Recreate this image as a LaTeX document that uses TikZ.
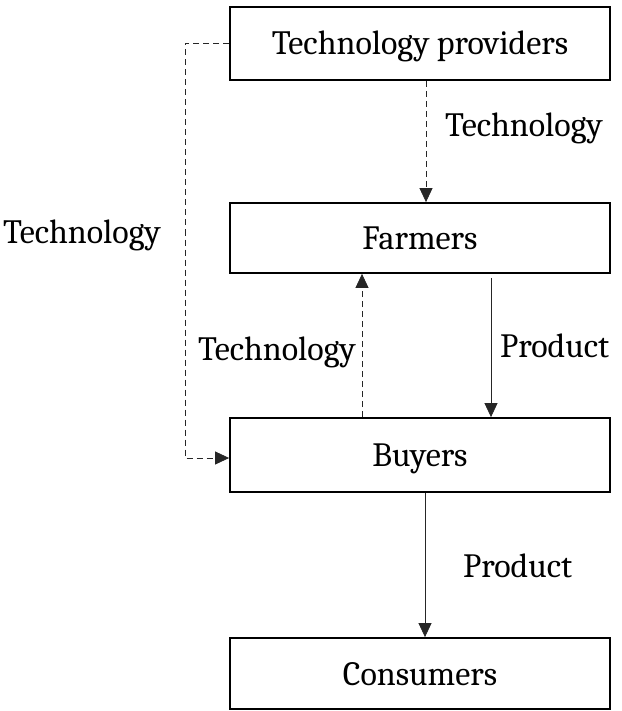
\documentclass[tikz,border=0pt]{standalone}
\usepackage{fontspec}
\setmainfont{Caladea}
\usetikzlibrary{arrows.meta}
\begin{document}
\begin{tikzpicture}[x=1pt,y=-1pt,
  box/.style={draw=black,line width=1.8pt,minimum width=380pt,inner sep=0pt,text height=30pt,text depth=7pt,font=\fontsize{34}{40}\selectfont},
  lbl/.style={inner sep=0pt,anchor=base west,font=\fontsize{34}{40}\selectfont},
  flow/.style={line width=0.8pt,draw=black!85,-{Triangle[length=14pt,width=13pt]}},
  dflow/.style={flow,dash pattern=on 6pt off 4pt}]
\useasboundingbox (0,0) rectangle (621,711);
\node[box,minimum height=73pt] (tp) at (420,43.5) {Technology providers};
\node[box,minimum height=70pt] (fa) at (420,238) {Farmers};
\node[box,minimum height=74pt] (bu) at (420,455) {Buyers};
\node[box,minimum height=71pt] (co) at (420,673.5) {Consumers};
\draw[dflow] ([xshift=6pt]tp.south) -- ([xshift=6pt]fa.north);
\draw[dflow] (tp.west) -- ++(-44,0) |- ([yshift=-3pt]bu.west);
\draw[dflow] ([xshift=-58pt]bu.north) -- ([xshift=-58pt]fa.south);
\draw[flow] ([xshift=71pt,yshift=-4pt]fa.south) -- ([xshift=71pt]bu.north);
\draw[flow] ([xshift=5pt]bu.south) -- ([xshift=5pt]co.north);
\node[lbl] (l1) at (445,137) {Technology};
\node[lbl] (l2) at (3,243) {Technology};
\node[lbl] (l3) at (198,360) {Technology};
\node[lbl] (l4) at (500,357) {Product};
\node[lbl] (l5) at (463,577) {Product};
\end{tikzpicture}
\end{document}
